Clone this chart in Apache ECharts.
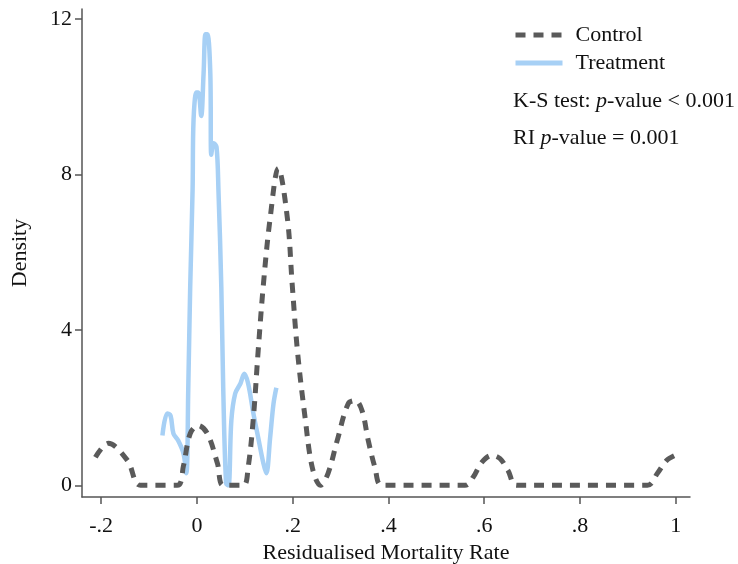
<!DOCTYPE html>
<html>
<head>
<meta charset="utf-8">
<script src="https://cdn.jsdelivr.net/npm/echarts@6/dist/echarts.min.js"></script>
<style>
  html, body { margin: 0; padding: 0; background: #fff; }
  #chart { width: 738px; height: 564px; }
</style>
</head>
<body>
<div id="chart"></div>
<script>
const controlX = [-0.212, -0.185, -0.145, -0.118, -0.041, -0.028, -0.014, 0.003, 0.022, 0.043, 0.055, 0.097,
  0.107, 0.118, 0.128, 0.139, 0.153, 0.170, 0.189, 0.199, 0.210, 0.226, 0.241, 0.258, 0.274, 0.293,
  0.316, 0.331, 0.345, 0.358, 0.372, 0.387, 0.560, 0.577, 0.595, 0.616, 0.633, 0.650, 0.668, 0.941,
  0.962, 0.981, 0.998]
const controlY = [0.72, 1.08, 0.64, 0, 0, 0.51, 1.33, 1.54, 1.33, 0.56, 0, 0,
  0.46, 1.74, 3.46, 5.18, 6.87, 8.15, 6.87, 5.18, 3.46, 1.74, 0.46, 0, 0.31, 1.15,
  2.10, 2.18, 1.92, 1.15, 0.46, 0, 0, 0.21, 0.59, 0.77, 0.69, 0.38, 0, 0,
  0.31, 0.64, 0.77]

const treatX = [-0.072, -0.062, -0.055, -0.049, -0.039, -0.028, -0.022, -0.018, -0.014, -0.009, -0.007,
  -0.001, 0.003, 0.009, 0.014, 0.018, 0.022, 0.028, 0.030, 0.035, 0.041, 0.045, 0.051, 0.055, 0.061,
  0.066, 0.072, 0.080, 0.091, 0.099, 0.107, 0.118, 0.128, 0.139, 0.145, 0.153, 0.160, 0.166]
const treatY = [1.28, 1.85, 1.79, 1.33, 1.15, 0.82, 0.31, 2.5, 5.1, 7.6, 9.4,
  10.1, 10.1, 9.5, 10.6, 11.6, 11.6, 10.6, 8.5, 8.8, 8.7, 7.6, 5.1, 2.5, 0.05,
  0, 1.67, 2.36, 2.62, 2.87, 2.62, 1.85, 1.23, 0.56, 0.31, 1.23, 2.10, 2.51]

const xTicks = [-0.2, 0, 0.2, 0.4, 0.6, 0.8, 1]
const xTickLabels = ['-.2', '0', '.2', '.4', '.6', '.8', '1']
const yTicks = [0, 4, 8, 12]

const font = "'Liberation Serif', 'Times New Roman', serif"
const axisColor = '#555'
const textColor = '#111'

const chartIns = echarts.init(document.getElementById('chart'))

function pairs(xs, ys) {
  return xs.map((x, i) => [x, ys[i]])
}

const statRich = {
  a: { fontFamily: font, fontSize: 22, fontWeight: 'normal', color: textColor },
  i: { fontFamily: font, fontSize: 22, fontWeight: 'normal', fontStyle: 'italic', color: textColor }
}

const option = {
  animation: false,
  grid: { left: 82, right: 48, top: 9, bottom: 67, outerBoundsMode: 'none', containLabel: false },
  legend: {
    orient: 'vertical',
    left: 513,
    top: 24,
    padding: 0,
    itemWidth: 47,
    itemHeight: 14,
    itemGap: 6,
    itemStyle: { opacity: 0 },
    lineStyle: { width: 5 },
    textStyle: { fontFamily: font, fontSize: 22, lineHeight: 22, color: textColor, padding: [0, 0, 0, 8] },
    data: ['Control', 'Treatment']
  },
  title: [
    {
      left: 513, top: 90, padding: 0,
      text: '{a|K-S test: }{i|p}{a|-value < 0.001}',
      textStyle: { fontWeight: 'normal', rich: statRich }
    },
    {
      left: 513, top: 127, padding: 0,
      text: '{a|RI }{i|p}{a|-value = 0.001}',
      textStyle: { fontWeight: 'normal', rich: statRich }
    }
  ],
  xAxis: {
    type: 'value',
    min: -0.24,
    max: 1.03,
    name: 'Residualised Mortality Rate',
    nameLocation: 'middle',
    nameGap: 36,
    nameTextStyle: { fontFamily: font, fontSize: 22, color: textColor },
    axisLine: { onZero: false, lineStyle: { color: axisColor, width: 1.5 } },
    axisTick: { length: 7, customValues: xTicks, lineStyle: { color: axisColor, width: 1.5 } },
    axisLabel: {
      customValues: xTicks,
      margin: 18,
      fontFamily: font, fontSize: 22, color: textColor,
      formatter: v => xTickLabels[xTicks.findIndex(t => Math.abs(t - v) < 1e-6)]
    },
    splitLine: { show: false }
  },
  yAxis: {
    type: 'value',
    min: -0.3,
    max: 12.25,
    name: 'Density',
    nameLocation: 'middle',
    nameGap: 51,
    nameRotate: 90,
    nameTextStyle: { fontFamily: font, fontSize: 22, color: textColor },
    axisLine: { show: true, onZero: false, lineStyle: { color: axisColor, width: 1.5 } },
    axisTick: { show: true, length: 7, customValues: yTicks, lineStyle: { color: axisColor, width: 1.5 } },
    axisLabel: {
      customValues: yTicks,
      margin: 10,
      fontFamily: font, fontSize: 22, color: textColor
    },
    splitLine: { show: false }
  },
  series: [
    {
      name: 'Control',
      type: 'line',
      smooth: 0.35,
      symbol: 'none',
      z: 3,
      lineStyle: { color: '#5a5a5a', width: 5, type: [10, 8] },
      itemStyle: { color: '#5a5a5a' },
      data: pairs(controlX, controlY)
    },
    {
      name: 'Treatment',
      type: 'line',
      smooth: 0.35,
      symbol: 'none',
      z: 2,
      lineStyle: { color: '#a7d0f5', width: 4.5 },
      itemStyle: { color: '#a7d0f5' },
      data: pairs(treatX, treatY)
    }
  ]
}

chartIns.setOption(option)
</script>
</body>
</html>
